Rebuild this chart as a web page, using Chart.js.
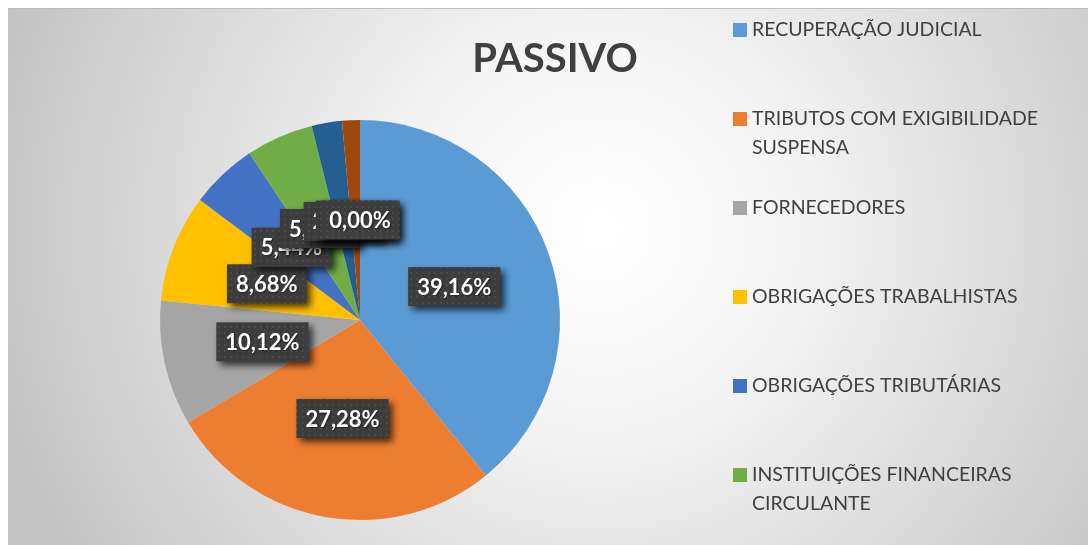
<!DOCTYPE html>
<html>
<head>
<meta charset="utf-8">
<script src="https://cdn.jsdelivr.net/npm/chart.js@4"></script>
<style>
  html, body { margin: 0; padding: 0; background: #fff; }
  #wrap { width: 1091px; height: 545px; position: relative; }
</style>
</head>
<body>
<div id="wrap"><canvas id="chart" width="1091" height="545"></canvas></div>
<script>
// data
const categories = [
  'RECUPERAÇÃO JUDICIAL',
  'TRIBUTOS COM EXIGIBILIDADE SUSPENSA',
  'FORNECEDORES',
  'OBRIGAÇÕES TRABALHISTAS',
  'OBRIGAÇÕES TRIBUTÁRIAS',
  'INSTITUIÇÕES FINANCEIRAS CIRCULANTE',
  'INSTITUIÇÕES FINANCEIRAS NÃO CIRCULANTE',
  'OUTRAS OBRIGAÇÕES',
  'PARTES RELACIONADAS'
];
const values = [39.16, 27.28, 10.12, 8.68, 5.44, 5.43, 2.45, 1.44, 0];
const colors = ['#5b9bd5', '#ed7d31', '#a5a5a5', '#ffc000', '#4472c4', '#70ad47', '#255e91', '#9e480e', '#636363'];

// legend rows as they wrap in the picture (only the first six fit)
const legendLines = [
  ['RECUPERAÇÃO JUDICIAL'],
  ['TRIBUTOS COM EXIGIBILIDADE', 'SUSPENSA'],
  ['FORNECEDORES'],
  ['OBRIGAÇÕES TRABALHISTAS'],
  ['OBRIGAÇÕES TRIBUTÁRIAS'],
  ['INSTITUIÇÕES FINANCEIRAS', 'CIRCULANTE']
];

const FONT = 'Lato, "Open Sans", sans-serif';

// dotted texture for the label boxes
function makePattern(ctx) {
  const c = document.createElement('canvas');
  c.width = 6; c.height = 6;
  const p = c.getContext('2d');
  p.fillStyle = '#3d3d3d';
  p.fillRect(0, 0, 6, 6);
  p.fillStyle = '#4a4a4a';
  p.fillRect(2, 2, 2, 2);
  return ctx.createPattern(c, 'repeat');
}

const background = {
  id: 'background',
  beforeDraw(chart) {
    const ctx = chart.ctx;
    ctx.save();
    ctx.fillStyle = '#ffffff';
    ctx.fillRect(0, 0, chart.width, chart.height);
    const g = ctx.createRadialGradient(600, 230, 0, 600, 230, 640);
    g.addColorStop(0, '#ffffff');
    g.addColorStop(0.3, '#f5f5f5');
    g.addColorStop(1, '#c2c2c2');
    ctx.fillStyle = g;
    ctx.fillRect(8, 8, 1080, 537);
    ctx.fillStyle = '#bdbdbd';
    ctx.fillRect(8, 8, 1080, 1);
    ctx.restore();
  }
};

const titleAndLegend = {
  id: 'titleAndLegend',
  afterDraw(chart) {
    const ctx = chart.ctx;
    ctx.save();
    ctx.fillStyle = '#404040';
    ctx.font = 'bold 40px ' + FONT;
    ctx.textAlign = 'center';
    ctx.textBaseline = 'middle';
    ctx.fillText('PASSIVO', 555, 59);

    ctx.font = '19.5px ' + FONT;
    ctx.textAlign = 'left';
    let y = 30;
    legendLines.forEach((lines, i) => {
      ctx.fillStyle = colors[i];
      ctx.fillRect(733, y - 7, 14, 14);
      ctx.fillStyle = '#404040';
      lines.forEach((t, k) => ctx.fillText(t, 752, y + k * 29));
      y += 89;
    });
    ctx.restore();
  }
};

const dataLabels = {
  id: 'dataLabels',
  afterDatasetsDraw(chart) {
    const ctx = chart.ctx;
    const meta = chart.getDatasetMeta(0);
    const data = chart.data.datasets[0].data;
    const total = data.reduce((a, b) => a + b, 0);
    const pattern = makePattern(ctx);
    ctx.save();
    ctx.font = 'bold 22px ' + FONT;
    ctx.textAlign = 'center';
    ctx.textBaseline = 'middle';
    meta.data.forEach((arc, i) => {
      const mid = (arc.startAngle + arc.endAngle) / 2;
      const r = arc.outerRadius * 0.5;
      const x = arc.x + Math.cos(mid) * r;
      const y = arc.y + Math.sin(mid) * r;
      const txt = (data[i] / total * 100).toFixed(2).replace('.', ',') + '%';
      const w = ctx.measureText(txt).width + 18;
      const h = 39;
      ctx.shadowColor = 'rgba(0,0,0,0.7)';
      ctx.shadowBlur = 7;
      ctx.shadowOffsetX = 4;
      ctx.shadowOffsetY = 4;
      ctx.fillStyle = pattern;
      ctx.fillRect(x - w / 2, y - h / 2, w, h);
      ctx.shadowColor = 'rgba(0,0,0,0.5)';
      ctx.shadowBlur = 2;
      ctx.shadowOffsetX = 1;
      ctx.shadowOffsetY = 1;
      ctx.fillStyle = '#ffffff';
      ctx.fillText(txt, x, y + 1);
      ctx.shadowColor = 'transparent';
    });
    ctx.restore();
  }
};

const ctx = document.getElementById('chart').getContext('2d');
const chart = new Chart(ctx, {
  type: 'pie',
  data: {
    labels: categories,
    datasets: [{
      data: values,
      backgroundColor: colors,
      borderWidth: 0
    }]
  },
  options: {
    responsive: false,
    animation: false,
    layout: { padding: { left: 160, right: 531, top: 120, bottom: 25 } },
    plugins: {
      legend: { display: false },
      title: { display: false },
      tooltip: { enabled: false }
    }
  },
  plugins: [background, dataLabels, titleAndLegend]
});
</script>
</body>
</html>
